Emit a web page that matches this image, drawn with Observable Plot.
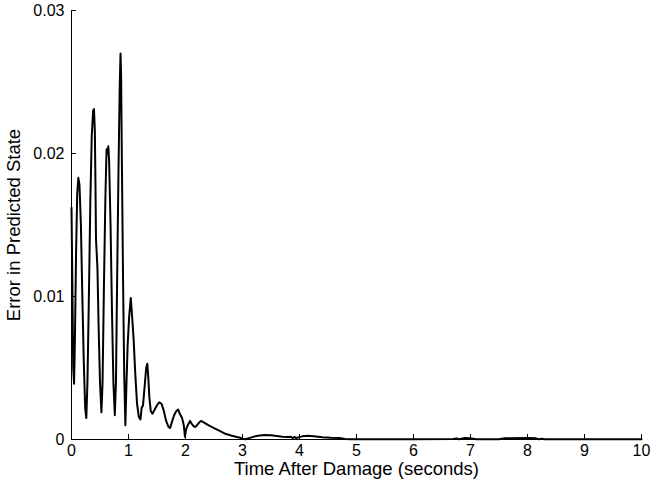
<!DOCTYPE html>
<html>
<head>
<meta charset="utf-8">
<script src="https://cdn.jsdelivr.net/npm/d3@7"></script>
<script src="https://cdn.jsdelivr.net/npm/@observablehq/plot@0.6"></script>
<style>
  html, body { margin: 0; padding: 0; background: #fff; }
  svg { font-family: "Liberation Sans", Arial, Helvetica, sans-serif; }
</style>
</head>
<body>
<div id="chart"></div>
<script>
// Time after damage (seconds)
const time = [
  0.000, 0.015, 0.030, 0.045, 0.060, 0.080, 0.100, 0.120, 0.140, 0.165,
  0.190, 0.215, 0.240, 0.260, 0.280, 0.305, 0.330, 0.355, 0.380, 0.395,
  0.410, 0.420, 0.430, 0.440, 0.455, 0.475, 0.500, 0.525, 0.545, 0.570,
  0.595, 0.615, 0.630, 0.645, 0.660, 0.685, 0.710, 0.735, 0.760, 0.780,
  0.800, 0.825, 0.845, 0.860, 0.870, 0.885, 0.905, 0.925, 0.945, 0.965,
  0.985, 1.010, 1.040, 1.065, 1.090, 1.120, 1.150, 1.180, 1.210, 1.230,
  1.255, 1.285, 1.310, 1.330, 1.345, 1.365, 1.390, 1.420, 1.460, 1.500,
  1.540, 1.580, 1.620, 1.660, 1.700, 1.730, 1.760, 1.800, 1.840, 1.870,
  1.900, 1.940, 1.970, 1.990, 2.010, 2.040, 2.080, 2.110, 2.150, 2.180,
  2.220, 2.270, 2.320, 2.400, 2.500, 2.600, 2.700, 2.800, 2.900, 2.960,
  3.000, 3.050, 3.100, 3.200, 3.300, 3.400, 3.500, 3.600, 3.700, 3.800,
  3.850, 3.880, 3.910, 3.940, 3.980, 4.050, 4.150, 4.250, 4.400, 4.550,
  4.700, 4.800, 4.900, 5.000, 5.500, 6.000, 6.700, 6.750, 6.800, 6.900,
  7.000, 7.100, 7.200, 7.500, 7.600, 8.000, 8.150, 8.200, 8.250, 8.300,
  9.000, 10.000
];
// Error in predicted state
const error = [
  0.0162, 0.0110, 0.0050, 0.0039, 0.0070, 0.0130, 0.0172, 0.0183, 0.0178, 0.0150,
  0.0100, 0.0055, 0.0022, 0.0015, 0.0040, 0.0100, 0.0165, 0.0212, 0.0230, 0.0231,
  0.0215, 0.0180, 0.0140, 0.0132, 0.0120, 0.0080, 0.0040, 0.0019, 0.0040, 0.0110,
  0.0170, 0.0203, 0.0200, 0.0205, 0.0195, 0.0150, 0.0090, 0.0040, 0.0017, 0.0040,
  0.0110, 0.0190, 0.0245, 0.0270, 0.0255, 0.0190, 0.0110, 0.0045, 0.0010, 0.0040,
  0.0066, 0.0085, 0.0099, 0.0085, 0.0070, 0.0045, 0.0025, 0.0016, 0.0014, 0.0022,
  0.0024, 0.0038, 0.0050, 0.0053, 0.0045, 0.0030, 0.0020, 0.0018, 0.0021, 0.0024,
  0.0026, 0.0025, 0.0020, 0.0013, 0.0009, 0.0008, 0.0012, 0.0017, 0.0020, 0.0021,
  0.0018, 0.0015, 0.0010, 0.0002, 0.0007, 0.0010, 0.0013, 0.0011, 0.0009, 0.0009,
  0.0011, 0.0013, 0.0012, 0.0010, 0.0008, 0.0006, 0.0004, 0.00028, 0.00018, 0.00012,
  0.00005, 0.00002, 0.00008, 0.0002, 0.00028, 0.00032, 0.0003, 0.00025, 0.0002, 0.00018,
  0.0002, 0.00008, 0.00018, 0.0001, 0.00015, 0.00022, 0.00026, 0.00022, 0.00016, 0.00012,
  0.0001, 0.00003, 0.00002, 0.00002, 0.00002, 0.00002, 0.00003, 0.00008, 0.00002, 0.0001,
  0.00008, 0.00002, 0.00001, 0.00002, 0.00008, 0.0001, 0.00008, 0.00002, 0.00005, 0.00002,
  0.00001, 0.00001
];
const xTicks = [0, 1, 2, 3, 4, 5, 6, 7, 8, 9, 10];
const yTicks = [0, 0.01, 0.02, 0.03];
const yTickLabels = ["0", "0.01", "0.02", "0.03"];
const xTitle = "Time After Damage (seconds)";
const yTitle = "Error in Predicted State";

const data = time.map((t, i) => ({t, e: error[i]}));

const chart = Plot.plot({
  width: 652,
  height: 485,
  marginLeft: 71,
  marginRight: 11,
  marginTop: 10,
  marginBottom: 46,
  style: {fontFamily: '"Liberation Sans", Arial, sans-serif', fontSize: "16px", color: "#000", background: "#fff"},
  x: {domain: [0, 10]},
  y: {domain: [0, 0.03]},
  marks: [
    // inward tick marks
    Plot.axisX({ticks: xTicks, tickSize: 5, dy: -5, text: null, label: null}),
    Plot.axisY({ticks: yTicks, tickSize: 5, dx: 5, text: null, label: null}),
    // tick labels
    Plot.axisX({ticks: xTicks, tickSize: 0, tickPadding: 5, tickFormat: d => String(d), label: null, fontSize: 16}),
    Plot.axisY({ticks: yTicks, tickSize: 0, tickPadding: 7, tickFormat: (d, i) => yTickLabels[i], label: null, fontSize: 16}),
    Plot.ruleY([0], {stroke: "#000", strokeWidth: 1}),
    Plot.ruleX([0], {stroke: "#000", strokeWidth: 1}),
    Plot.line(data, {x: "t", y: "e", stroke: "#000", strokeWidth: 2, strokeLinejoin: "round"}),
    Plot.text([xTitle], {frameAnchor: "bottom", dy: 30, fontSize: 18.5, lineAnchor: "middle", text: d => d}),
    Plot.text([yTitle], {frameAnchor: "left", dx: -57, rotate: -90, textAnchor: "middle", lineAnchor: "middle", fontSize: 18.5, text: d => d})
  ]
});
document.getElementById("chart").appendChild(chart);
</script>
</body>
</html>
